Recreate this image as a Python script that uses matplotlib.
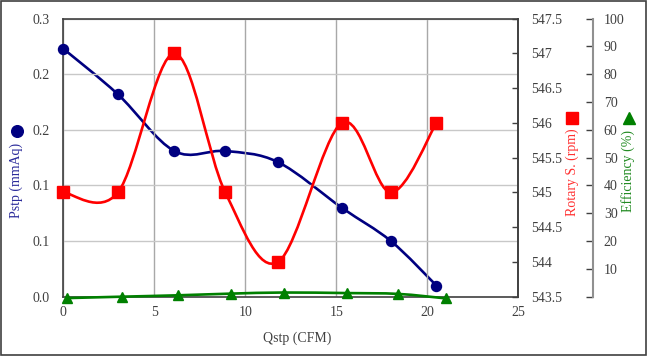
import matplotlib
matplotlib.use('Agg')
import matplotlib.pyplot as plt
import numpy as np
from matplotlib.path import Path
from matplotlib.patches import PathPatch, Rectangle
from matplotlib.lines import Line2D

plt.rcParams['font.family'] = ['Liberation Serif', 'DejaVu Sans']
plt.rcParams['font.size'] = 10

# data
qstp = [0.0, 3.0, 6.1, 8.9, 11.8, 15.3, 18.0, 20.5]
pstp = [0.223, 0.182, 0.131, 0.131, 0.121, 0.080, 0.050, 0.010]
rpm = [545, 545, 547, 545, 544, 546, 545, 546]
qstp_eff = [0.2, 3.2, 6.3, 9.2, 12.1, 15.6, 18.4, 21.0]
eff = [-0.5, 0.0, 0.5, 1.1, 1.5, 1.3, 1.0, -0.6]

pstp_ticks = [0.0, 0.05, 0.10, 0.15, 0.20, 0.25]
pstp_labels = ['0.0', '0.1', '0.1', '0.2', '0.2', '0.3']
rpm_ticks = [543.5, 544, 544.5, 545, 545.5, 546, 546.5, 547, 547.5]
rpm_labels = ['543.5', '544', '544.5', '545', '545.5', '546', '546.5', '547', '547.5']
eff_ticks = [0, 10, 20, 30, 40, 50, 60, 70, 80, 90, 100]

NAVY = '#000080'
RED = '#ff0000'
GREEN = '#008000'
TXT = '#404040'
W, H = 647, 356


def smooth_path(xs, ys):
    # Excel-style smoothed line: Catmull-Rom segments as cubic beziers
    p = np.column_stack([xs, ys]).astype(float)
    ext = np.vstack([p[0], p, p[-1]])
    verts = [p[0]]
    codes = [Path.MOVETO]
    for i in range(len(p) - 1):
        p0, p1, p2, p3 = ext[i], ext[i + 1], ext[i + 2], ext[i + 3]
        verts += [p1 + (p2 - p0) / 6, p2 - (p3 - p1) / 6, p2]
        codes += [Path.CURVE4] * 3
    return Path(verts, codes)


def fig_xy(px, py):
    return px / W, 1 - py / H


fig = plt.figure(figsize=(W / 100, H / 100), dpi=100)
ax = fig.add_axes([0.0978, 0.1666, 0.7033, 0.7809])

ax.set_xlim(0, 25)
ax.set_ylim(0, 0.25)
ax.set_xticks([0, 5, 10, 15, 20, 25])
ax.set_yticks(pstp_ticks)
ax.set_yticklabels(pstp_labels)
ax.grid(True, axis='y', color='#c8c8c8', lw=1)
ax.grid(True, axis='x', color='#a8a8a8', lw=1)
ax.tick_params(axis='both', length=0, colors=TXT, labelsize=10)
ax.tick_params(axis='y', pad=10)
ax.tick_params(axis='x', pad=7)
for s in ax.spines.values():
    s.set_color('#404040')
    s.set_linewidth(1.2)
ax.set_xlabel('Qstp (CFM)', color=TXT, fontsize=10, labelpad=6)
ax.xaxis.set_label_coords(0.513, -0.125)

ax.add_patch(PathPatch(smooth_path(qstp, pstp), fill=False, ec=NAVY, lw=1.9))
ax.plot(qstp, pstp, ls='none', marker='o', ms=7.2, color=NAVY, clip_on=False, zorder=5)

ax2 = ax.twinx()
ax2.set_ylim(543.5, 547.5)
ax2.set_yticks(rpm_ticks)
ax2.set_yticklabels(rpm_labels)
ax2.tick_params(axis='y', direction='in', length=4, width=1, colors=TXT, pad=9, labelsize=10)
for s in ax2.spines.values():
    s.set_visible(False)
ax2.spines['right'].set_visible(True)
ax2.spines['right'].set_color('#404040')
ax2.spines['right'].set_linewidth(1.2)
ax2.add_patch(PathPatch(smooth_path(qstp, rpm), fill=False, ec=RED, lw=1.9))
ax2.plot(qstp, rpm, ls='none', marker='s', ms=8.2, color=RED, clip_on=False, zorder=5)

ax3 = ax.twinx()
ax3.set_ylim(0, 100)
ax3.set_yticks(eff_ticks)
ax3.set_yticklabels([''] + [str(t) for t in eff_ticks[1:]])
ax3.spines['right'].set_position(('axes', 1.1635))
for k in ['top', 'bottom', 'left']:
    ax3.spines[k].set_visible(False)
ax3.spines['right'].set_color('#909090')
ax3.spines['right'].set_linewidth(1.5)
ax3.tick_params(axis='y', direction='in', length=5, width=1, colors=TXT, pad=8, labelsize=10)
ax3.add_patch(PathPatch(smooth_path(qstp_eff, eff), fill=False, ec=GREEN, lw=1.9, clip_on=False))
ax3.plot(qstp_eff, eff, ls='none', marker='^', ms=7, color=GREEN, clip_on=False, zorder=5)

# axis titles with their series marker above
fig.text(*fig_xy(16.7, 180), 'Pstp (mmAq)', rotation=90, ha='center', va='center',
         color='#2a2a9a', fontsize=10)
fig.text(*fig_xy(572.3, 171.7), 'Rotary S. (rpm)', rotation=90, ha='center', va='center',
         color='#ff3030', fontsize=10)
fig.text(*fig_xy(628, 170.8), 'Efficiency (%)', rotation=90, ha='center', va='center',
         color='#228b22', fontsize=10)
for (px, py), mk, c, ms in [((17, 130.5), 'o', NAVY, 8.4),
                            ((571.7, 117.8), 's', RED, 8.6),
                            ((629.2, 118.3), '^', GREEN, 8.6)]:
    fx, fy = fig_xy(px, py)
    fig.add_artist(Line2D([fx], [fy], transform=fig.transFigure, ls='none',
                          marker=mk, ms=ms, color=c))

fig.patches.append(Rectangle((0.8 / W, 1.5 / H), 645 / W, 353.5 / H, transform=fig.transFigure,
                             fill=False, ec='#404040', lw=1.2))

fig.savefig('out.png', dpi=100)
